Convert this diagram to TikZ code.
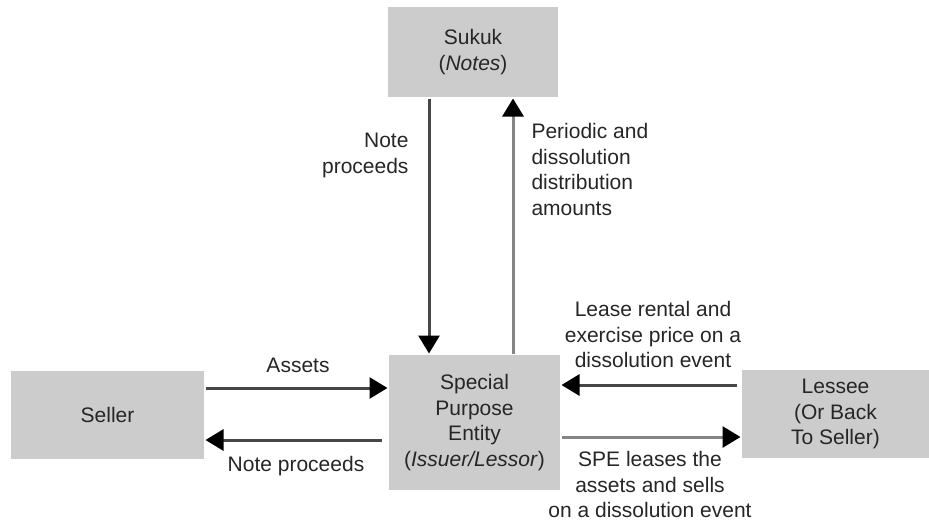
\documentclass[tikz,border=0pt]{standalone}
\usepackage{fontspec}
\setmainfont{Liberation Sans}
\usetikzlibrary{arrows.meta}
\colorlet{boxgray}{black!20}
\colorlet{darkline}{black!72}
\colorlet{lightline}{black!48}

\begin{document}
\begin{tikzpicture}[ x=1pt, y=-1pt
                   , -{Triangle[length=18pt,width=21pt,color=black]}
                   , line width=3pt
                   , font=\fontsize{21}{25.5}\selectfont
                   , box/.style={fill=boxgray, draw=none, inner sep=0pt, align=center, text=black!85}
                   , lbl/.style={inner sep=0pt, text=black!85}
                   ]

      \useasboundingbox (0,0) rectangle (929,522);

      % boxes
      \node (sukuk)  [box, minimum width=170pt, minimum height=90pt]  at (473,52)    {Sukuk\\(\textit{Notes})};
      \node (spe)    [box, minimum width=171pt, minimum height=135pt] at (474.5,422.5) {Special\\Purpose\\Entity\\(\textit{Issuer/Lessor})};
      \node (seller) [box, minimum width=193pt, minimum height=88pt]  at (107.5,415) {Seller};
      \node (lessee) [box, minimum width=187pt, minimum height=88pt]  at (835.5,414) {Lessee\\(Or Back\\To Seller)};

      % flows
      \draw [darkline]  (sukuk.south -| 429,0) -- (spe.north -| 429,0);
      \draw [lightline] (spe.north -| 513,0) -- (sukuk.south -| 513,0);
      \draw [darkline]  (seller.east |- 0,388) -- (spe.west |- 0,388);
      \draw [darkline]  ([xshift=-6pt]spe.west |- 0,440) -- (seller.east |- 0,440);
      \draw [darkline]  ([xshift=-4pt]lessee.west |- 0,385) -- (spe.east |- 0,385);
      \draw [lightline] (spe.east |- 0,437) -- (lessee.west |- 0,437);

      % labels
      \node (upproc)  [lbl, anchor=north east, align=right]  at (410,132) {Note\\proceeds};
      \node (distrib) [lbl, anchor=north west, align=left]   at (530,122) {Periodic and\\dissolution\\distribution\\amounts};
      \node (assets)  [lbl, anchor=base]                     at (298,372) {Assets};
      \node (lowproc) [lbl, anchor=base]                     at (296,471) {Note proceeds};
      \node (rental)  [lbl, anchor=north, align=center]      at (653,300) {Lease rental and\\exercise price on a\\dissolution event};
      \node (leases)  [lbl, anchor=north, align=center]      at (650,450) {SPE leases the\\assets and sells\\on a dissolution event};

\end{tikzpicture}
\end{document}
